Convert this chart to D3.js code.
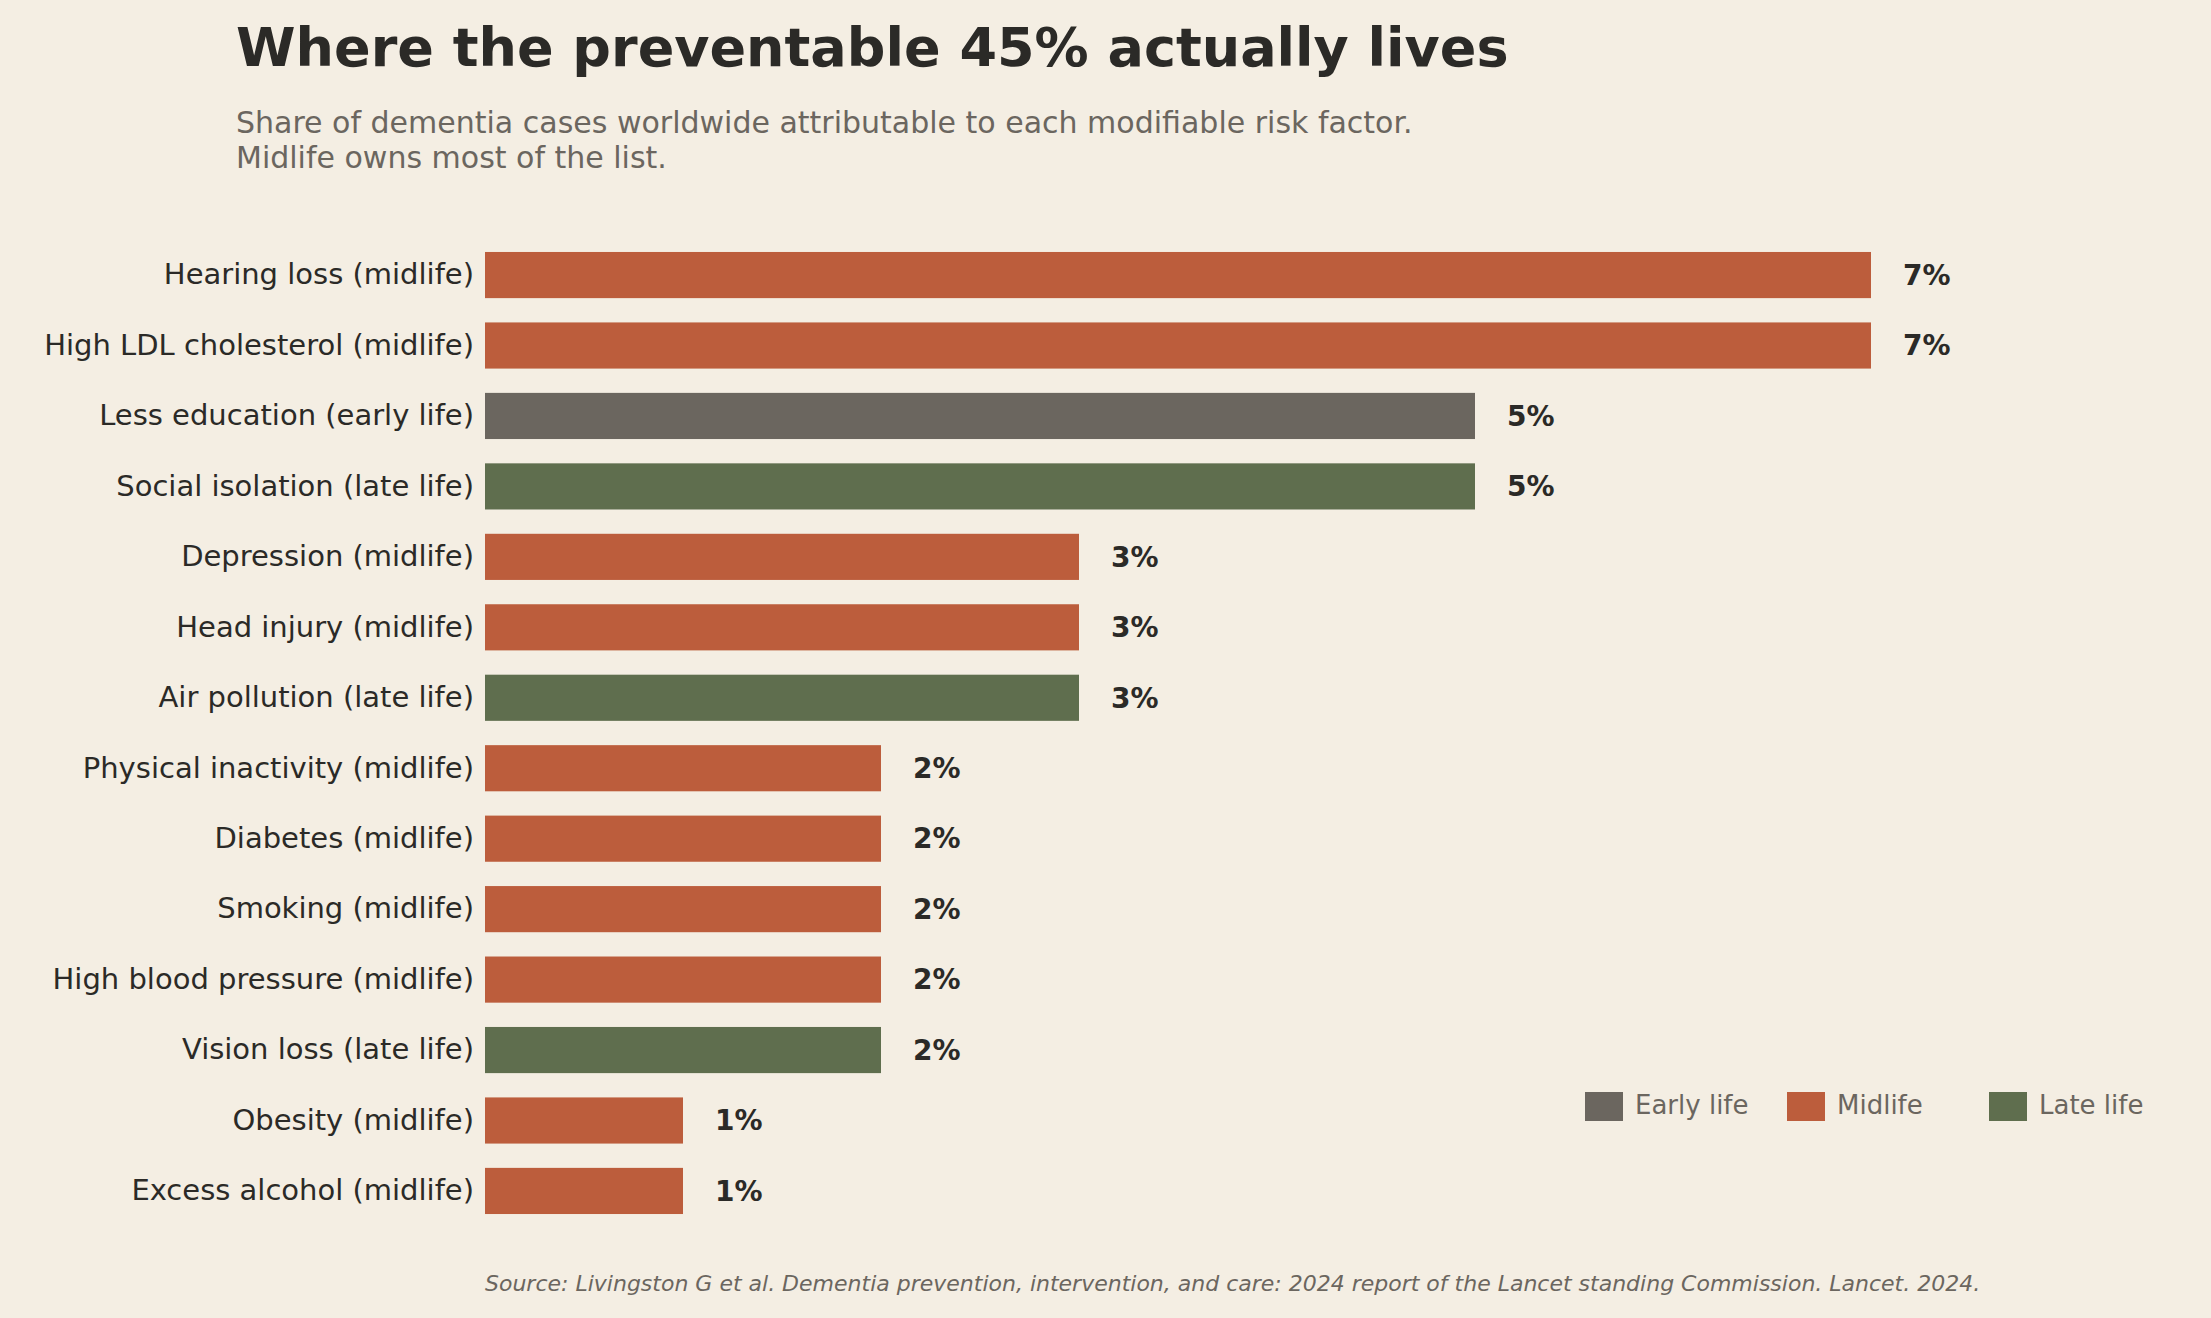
<!DOCTYPE html>
<html>
<head>
<meta charset="utf-8">
<script src="https://cdn.jsdelivr.net/npm/d3@7"></script>
<style>
  body { margin: 0; background: #f4eee3; }
  svg { display: block; font-family: 'DejaVu Sans', sans-serif; }
</style>
</head>
<body>
<svg width="2211" height="1318"></svg>
<script>
  const factors = ['Hearing loss (midlife)', 'High LDL cholesterol (midlife)', 'Less education (early life)',
    'Social isolation (late life)', 'Depression (midlife)', 'Head injury (midlife)', 'Air pollution (late life)',
    'Physical inactivity (midlife)', 'Diabetes (midlife)', 'Smoking (midlife)', 'High blood pressure (midlife)',
    'Vision loss (late life)', 'Obesity (midlife)', 'Excess alcohol (midlife)'];
  const shares = [7, 7, 5, 5, 3, 3, 3, 2, 2, 2, 2, 2, 1, 1];
  const stages = ['Midlife', 'Midlife', 'Early life', 'Late life', 'Midlife', 'Midlife', 'Late life',
    'Midlife', 'Midlife', 'Midlife', 'Midlife', 'Late life', 'Midlife', 'Midlife'];
  const stageNames = ['Early life', 'Midlife', 'Late life'];
  const stageColors = ['#6b665f', '#bc5d3c', '#5f6e4e'];

  const data = factors.map((f, i) => ({ factor: f, share: shares[i], stage: stages[i] }));
  const svg = d3.select('svg');
  const color = d3.scaleOrdinal().domain(stageNames).range(stageColors);

  const x = d3.scaleLinear().domain([0, 7]).range([485, 1871]);
  const y = d3.scaleBand().domain(factors).range([240, 1226]).paddingInner(0.345).paddingOuter(0.17);

  svg.append('text').attr('x', 236).attr('y', 66)
    .attr('font-size', 54).attr('font-weight', 'bold').attr('fill', '#2b2a27')
    .text('Where the preventable 45% actually lives');
  svg.append('text').attr('x', 236).attr('y', 133).attr('font-size', 30).attr('fill', '#6b665f')
    .text('Share of dementia cases worldwide attributable to each modifiable risk factor.');
  svg.append('text').attr('x', 236).attr('y', 168).attr('font-size', 30).attr('fill', '#6b665f')
    .text('Midlife owns most of the list.');

  svg.selectAll('rect.bar').data(data).join('rect').attr('class', 'bar')
    .attr('x', x(0)).attr('y', d => y(d.factor))
    .attr('width', d => x(d.share) - x(0)).attr('height', y.bandwidth())
    .attr('fill', d => color(d.stage));

  const axis = svg.append('g').attr('transform', `translate(${x(0)},0)`)
    .call(d3.axisLeft(y).tickSize(0).tickPadding(11));
  axis.select('.domain').remove();
  axis.selectAll('text').attr('font-size', 29).attr('fill', '#2b2a27').attr('font-family', 'DejaVu Sans');

  svg.selectAll('text.val').data(data).join('text').attr('class', 'val')
    .attr('x', d => x(d.share) + 32).attr('y', d => y(d.factor) + y.bandwidth() / 2)
    .attr('dy', '0.35em').attr('font-size', 28).attr('font-weight', 'bold').attr('fill', '#2b2a27')
    .text(d => d.share + '%');

  const legendX = [1585, 1787, 1989];
  const lg = svg.selectAll('g.leg').data(stageNames).join('g').attr('class', 'leg')
    .attr('transform', (d, i) => `translate(${legendX[i]},1092)`);
  lg.append('rect').attr('width', 38).attr('height', 29).attr('fill', d => color(d));
  lg.append('text').attr('x', 50).attr('y', 22).attr('font-size', 26).attr('fill', '#6b665f').text(d => d);

  svg.append('text').attr('x', 485).attr('y', 1291).attr('font-size', 22).attr('font-style', 'italic')
    .attr('fill', '#6b665f')
    .text('Source: Livingston G et al. Dementia prevention, intervention, and care: 2024 report of the Lancet standing Commission. Lancet. 2024.');
</script>
</body>
</html>
